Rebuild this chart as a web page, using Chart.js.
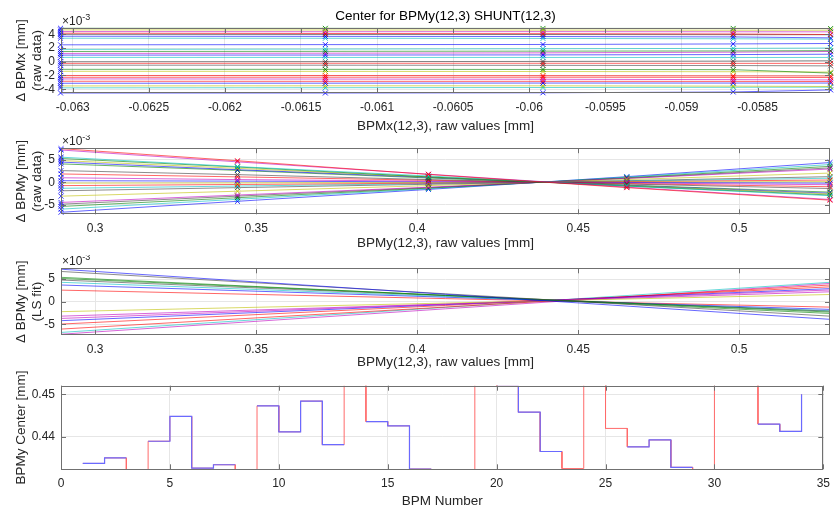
<!DOCTYPE html>
<html><head><meta charset="utf-8">
<script src="https://cdn.jsdelivr.net/npm/chart.js@4.4.1/dist/chart.umd.min.js"></script>
<style>
html,body{margin:0;padding:0;background:#fff;width:837px;height:511px;overflow:hidden;}
.p{position:absolute;left:0;}
canvas{display:block;}
</style></head><body>
<div class="p" style="top:0px"><canvas id="c1" width="837" height="135"></canvas></div>
<div class="p" style="top:135px"><canvas id="c2" width="837" height="120"></canvas></div>
<div class="p" style="top:255px"><canvas id="c3" width="837" height="120"></canvas></div>
<div class="p" style="top:360px"><canvas id="c4" width="837" height="151"></canvas></div>
<script>
// ---------- Panel 1: delta BPMx vs BPMx (raw data), values in 1e-3 mm ----------
const mainTitle = 'Center for BPMy(12,3) SHUNT(12,3)';
const p1XLabel = 'BPMx(12,3), raw values [mm]';
const p1YLabel = ['\u0394 BPMx [mm]', '(raw data)'];
const p1X = [-0.06308, -0.06134, -0.05991, -0.05866, -0.05802];
const p1XTicks = [-0.063, -0.0625, -0.062, -0.0615, -0.061, -0.0605, -0.06, -0.0595, -0.059, -0.0585];
const p1YTicks = [-4, -2, 0, 2, 4];
const p1Colors = ['g','y','m','r','k','b','c','b','c','g','m','b','c','k','r','k','g','y','r','r','m','r','b','y','c','b'];
const p1Raw = [
  [4.88, 4.87, 4.86, 4.86, 4.84],
  [4.64, 4.63, 4.62, 4.60, 4.60],
  [4.40, 4.38, 4.39, 4.37, 4.36],
  [4.16, 4.12, 4.10, 4.05, 3.97],
  [4.00, 3.98, 3.97, 3.95, 3.94],
  [3.72, 3.70, 3.68, 3.62, 3.48],
  [3.43, 3.42, 3.40, 3.35, 3.30],
  [2.47, 2.50, 2.52, 2.60, 2.66],
  [1.80, 1.85, 1.90, 1.95, 2.00],
  [1.50, 1.52, 1.55, 1.58, 1.62],
  [1.22, 1.25, 1.30, 1.40, 1.50],
  [0.97, 0.98, 1.00, 1.05, 1.10],
  [0.64, 0.63, 0.63, 0.62, 0.63],
  [0.00, 0.02, 0.05, 0.10, 0.15],
  [-0.23, -0.22, -0.22, -0.23, -0.24],
  [-0.50, -0.50, -0.52, -0.55, -0.60],
  [-1.10, -1.10, -1.12, -1.15, -1.65],
  [-1.39, -1.40, -1.42, -1.45, -1.50],
  [-2.00, -2.00, -2.02, -2.05, -2.07],
  [-2.26, -2.25, -2.25, -2.27, -2.30],
  [-2.50, -2.52, -2.55, -2.60, -2.65],
  [-2.84, -2.85, -2.85, -2.86, -2.88],
  [-3.13, -3.12, -3.10, -3.10, -3.10],
  [-3.52, -3.50, -3.50, -3.55, -3.60],
  [-3.80, -3.78, -3.75, -3.72, -3.70],
  [-4.55, -4.55, -4.52, -4.40, -4.10]
];

// ---------- Panel 2: delta BPMy vs BPMy (raw data), values in 1e-3 mm ----------
const p2XLabel = 'BPMy(12,3), raw values [mm]';
const p2YLabel = ['\u0394 BPMy [mm]', '(raw data)'];
const p2X = [0.2894, 0.3442, 0.4035, 0.4651, 0.5282];
const pyXTicks = [0.3, 0.35, 0.4, 0.45, 0.5];
const p2YTicks = [-5, 0, 5];
const p2Colors = ['r','m','c','g','y','b','g','k','r','m','b','y','r','c','k','y','m','k','g','c','b'];
const p2Raw = [
  [7.5, 4.8, 1.75, -1.2, -4.0],
  [7.2, 4.55, 1.8, -1.1, -3.85],
  [5.6, 3.5, 1.4, -0.85, -3.0],
  [5.3, 3.4, 1.2, -0.85, -2.85],
  [4.85, 3.1, 1.2, -0.75, -2.6],
  [4.5, 2.8, 1.1, -0.7, -2.45],
  [4.1, 2.65, 0.95, -0.65, -2.2],
  [2.6, 1.7, 0.6, -0.4, -1.4],
  [1.85, 1.2, 0.45, -0.3, -1.0],
  [1.0, 0.6, 0.25, -0.15, -0.55],
  [0.35, 0.25, 0.1, -0.05, -0.2],
  [-0.2, -0.15, -0.05, 0.05, 0.15],
  [-0.75, -0.5, -0.2, 0.15, 0.5],
  [-1.35, -0.85, -0.3, 0.25, 0.9],
  [-1.9, -1.2, -0.45, 0.35, 1.25],
  [-3.1, -2.0, -0.75, 0.6, 2.05],
  [-4.5, -2.85, -1.1, 0.85, 2.95],
  [-4.9, -3.1, -1.2, 0.9, 3.2],
  [-5.4, -3.45, -1.3, 1.0, 3.55],
  [-6.0, -3.8, -1.45, 1.15, 3.95],
  [-6.7, -4.25, -1.6, 1.25, 4.4]
];

// ---------- Panel 3: delta BPMy LS fit, values in 1e-3 mm ----------
const p3YLabel = ['\u0394 BPMy [mm]', '(LS fit)'];
const p3X = [0.2894, 0.5282];
const p3Colors = ['b','k','g','g','k','c','b','r','y','m','m','b','r','r','c','m'];
const p3Fit = [
  [7.2, -3.9], [6.7, -3.2], [5.4, -2.6], [5.15, -2.3], [4.8, -2.1], [4.3, -2.0],
  [3.7, -1.7], [2.57, -1.2], [-2.2, 1.6], [-3.2, 2.2], [-3.7, 2.6], [-4.2, 2.9],
  [-4.95, 3.3], [-6.06, 3.7], [-6.8, 4.3], [-7.2, 4.05]
];

// ---------- Panel 4: BPMy center per BPM ----------
const p4XLabel = 'BPM Number';
const p4YLabel = 'BPMy Center [mm]';
const bpmNumber = [1,2,3,4,5,6,7,8,9,10,11,12,13,14,15,16,17,18,19,20,21,22,23,24,25,26,27,28,29,30,31,32,33,34];
const centerAll = [0.4338,0.4351,0.428,0.4390,0.4448,0.4327,0.4335,0.428,0.4473,0.4412,0.4484,0.4382,0.456,0.4436,0.4426,0.4325,0.429,0.428,0.457,0.4519,0.4458,0.4366,0.4326,0.458,0.4420,0.4377,0.4393,0.4329,0.428,0.456,0.455,0.4430,0.4413,0.4500];
const centerGood = [0.4338,0.4351,null,0.4390,0.4448,0.4327,0.4335,null,0.4473,0.4412,0.4484,0.4382,null,0.4436,0.4426,0.4325,null,null,null,0.4519,0.4458,0.4366,null,null,null,0.4377,0.4393,0.4329,null,null,null,0.4430,0.4413,0.4500];
const p4XTicks = [0,5,10,15,20,25,30,35];
const p4YTicks = [0.44, 0.45];

// ---------- styling ----------
const FONT = '"Liberation Sans", Arial, Helvetica, sans-serif';
const TXT = '#262626';
const GRID = '#e6e6e6';
const MCOL = {b:[0,0,255], g:[0,128,0], r:[255,0,0], c:[0,191,191], m:[191,0,191], y:[191,191,0], k:[64,64,64]};
const rgba = (k, a) => 'rgba(' + MCOL[k].join(',') + ',' + a + ')';

const boxPlugin = {
  id: 'matlabBox',
  afterDraw(chart, args, opts) {
    const {ctx, chartArea: a, scales} = chart;
    ctx.save();
    ctx.strokeStyle = '#707070';
    ctx.lineWidth = 1;
    const L = 5;
    ctx.beginPath();
    scales.x.ticks.forEach(t => {
      const px = Math.round(scales.x.getPixelForValue(t.value)) + 0.5;
      ctx.moveTo(px, a.bottom); ctx.lineTo(px, a.bottom - L);
      ctx.moveTo(px, a.top); ctx.lineTo(px, a.top + L);
    });
    scales.y.ticks.forEach(t => {
      const py = Math.round(scales.y.getPixelForValue(t.value)) + 0.5;
      ctx.moveTo(a.left, py); ctx.lineTo(a.left + L, py);
      ctx.moveTo(a.right, py); ctx.lineTo(a.right - L, py);
    });
    ctx.stroke();
    ctx.strokeRect(Math.round(a.left) + 0.5, Math.round(a.top) + 0.5, Math.round(a.right - a.left) - 1, Math.round(a.bottom - a.top) - 1);
    if (opts && opts.exponent) {
      ctx.fillStyle = TXT;
      ctx.textBaseline = 'alphabetic';
      ctx.textAlign = 'left';
      ctx.font = '12px ' + FONT;
      const base = '\u00d710';
      ctx.fillText(base, a.left + 1, a.top - 3);
      const w = ctx.measureText(base).width;
      ctx.font = '9px ' + FONT;
      ctx.fillText(opts.exponent, a.left + 1 + w, a.top - 8);
    }
    ctx.restore();
  }
};

function xAxis(min, max, ticks, label, size, tickPad, titlePad) {
  return {
    type: 'linear', position: 'bottom', min, max, bounds: 'data',
    grid: {color: GRID, drawTicks: false, lineWidth: 1},
    border: {display: false},
    ticks: {font: {family: FONT, size: 12}, color: TXT, padding: tickPad, autoSkip: false, maxRotation: 0, callback: v => String(v)},
    title: {display: true, text: label, font: {family: FONT, size: 13.5, lineHeight: 1.2}, color: TXT, padding: {top: 0, bottom: titlePad}},
    afterBuildTicks: s => { s.ticks = ticks.map(v => ({value: v})); },
    afterFit: s => { s.height = size; }
  };
}
function yAxis(min, max, ticks, label, tickPad, titlePad) {
  return {
    type: 'linear', position: 'left', min, max, bounds: 'data',
    grid: {color: GRID, drawTicks: false, lineWidth: 1},
    border: {display: false},
    ticks: {font: {family: FONT, size: 12}, color: TXT, padding: tickPad, autoSkip: false, callback: v => String(v)},
    title: {display: true, text: label, font: {family: FONT, size: 13.5, lineHeight: '16px'}, color: TXT, padding: {top: titlePad, bottom: 0}},
    afterBuildTicks: s => { s.ticks = ticks.map(v => ({value: v})); },
    afterFit: s => { s.width = 61; }
  };
}
function lineSets(xs, rows, cols, markers) {
  return rows.map((row, i) => ({
    data: row.map((v, j) => ({x: xs[j], y: v})),
    borderColor: rgba(cols[i], 0.6),
    borderWidth: 1,
    pointStyle: 'crossRot',
    pointRadius: markers ? 3.5 : 0,
    pointHoverRadius: markers ? 3.5 : 0,
    pointBorderWidth: 1,
    pointBorderColor: c => c.dataIndex === 0 ? 'rgba(0,0,255,0.8)' : rgba(cols[i], 0.85),
    pointBackgroundColor: 'rgba(0,0,0,0)',
    fill: false, tension: 0, clip: false
  }));
}
function stairs(xs, ys) {
  const pts = [];
  for (let i = 0; i < xs.length; i++) {
    if (i > 0) pts.push({x: xs[i], y: ys[i - 1]});
    pts.push({x: xs[i], y: ys[i]});
  }
  return pts;
}
function baseOptions(padTop, titleCfg, exponent, xs, ys) {
  return {
    responsive: false, animation: false, devicePixelRatio: 1,
    layout: {padding: {left: 0, right: 7, top: padTop, bottom: 0}},
    plugins: {legend: {display: false}, tooltip: {enabled: false}, title: titleCfg || {display: false}, matlabBox: {exponent}},
    scales: {x: xs, y: ys},
    elements: {line: {borderWidth: 1}}
  };
}

// Panel 1
new Chart(document.getElementById('c1'), {
  type: 'line',
  data: {datasets: lineSets(p1X, p1Raw, p1Colors, true)},
  options: baseOptions(0,
    {display: true, text: mainTitle, fullSize: false, color: '#000', font: {family: FONT, size: 13.5, weight: 'normal', lineHeight: 1.2}, padding: {top: 8.6, bottom: 3.2}},
    '-3',
    xAxis(-0.063077, -0.058024, p1XTicks, p1XLabel, 42, 7, 0.5),
    yAxis(-4.55, 4.92, p1YTicks, p1YLabel, 6, 13)),
  plugins: [boxPlugin]
});
// Panel 2
new Chart(document.getElementById('c2'), {
  type: 'line',
  data: {datasets: lineSets(p2X, p2Raw, p2Colors, true)},
  options: baseOptions(13, null, '-3',
    xAxis(0.2894, 0.5282, pyXTicks, p2XLabel, 40.7, 7, 3.2),
    yAxis(-7.15, 7.6, p2YTicks, p2YLabel, 6, 13)),
  plugins: [boxPlugin]
});
// Panel 3
new Chart(document.getElementById('c3'), {
  type: 'line',
  data: {datasets: lineSets(p3X, p3Fit, p3Colors, false)},
  options: baseOptions(13.3, null, '-3',
    xAxis(0.2894, 0.5282, pyXTicks, p2XLabel, 40, 7, 4.2),
    yAxis(-7.37, 7.4, p2YTicks, p3YLabel, 6, 13)),
  plugins: [boxPlugin]
});
// Panel 4
new Chart(document.getElementById('c4'), {
  type: 'line',
  data: {datasets: [
    {data: stairs(bpmNumber, centerGood), borderColor: '#6a6aff', borderWidth: 1.2, pointRadius: 0, spanGaps: false, tension: 0},
    {data: stairs(bpmNumber, centerAll), borderColor: '#ff6a6a', borderWidth: 1, pointRadius: 0, spanGaps: false, tension: 0}
  ]},
  options: baseOptions(25.7, null, null,
    xAxis(0, 35, p4XTicks, p4XLabel, 41.7, 7, 1.5),
    yAxis(0.43243, 0.452, p4YTicks, p4YLabel, 6, 13.5)),
  plugins: [boxPlugin]
});
</script>
</body></html>
